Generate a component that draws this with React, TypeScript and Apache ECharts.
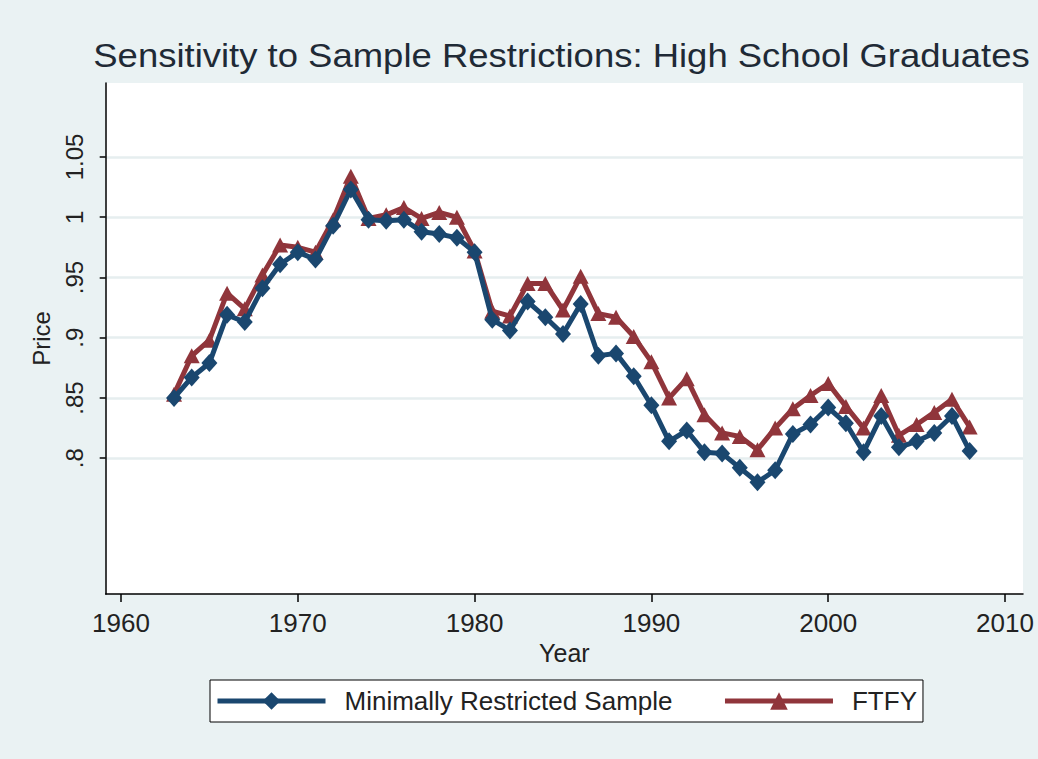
import React, { useEffect, useRef } from "react";
import * as echarts from "echarts";

const years = [
  1963, 1964, 1965, 1966, 1967, 1968, 1969, 1970, 1971, 1972, 1973, 1974, 1975, 1976, 1977, 1978,
  1979, 1980, 1981, 1982, 1983, 1984, 1985, 1986, 1987, 1988, 1989, 1990, 1991, 1992, 1993, 1994,
  1995, 1996, 1997, 1998, 1999, 2000, 2001, 2002, 2003, 2004, 2005, 2006, 2007, 2008,
];

const minimallyRestricted = [
  0.85, 0.867, 0.879, 0.919, 0.913, 0.941, 0.961, 0.971, 0.965, 0.993, 1.023, 0.998, 0.997, 0.998,
  0.988, 0.986, 0.983, 0.971, 0.915, 0.906, 0.93, 0.917, 0.903, 0.928, 0.885, 0.887, 0.868, 0.844,
  0.814, 0.823, 0.805, 0.804, 0.792, 0.78, 0.79, 0.82, 0.828, 0.842, 0.829, 0.805, 0.835, 0.809,
  0.814, 0.821, 0.835, 0.806,
];

const ftfy = [
  0.853, 0.885, 0.898, 0.937, 0.924, 0.952, 0.977, 0.975, 0.971, 0.998, 1.034, 0.999, 1.002, 1.008,
  0.999, 1.004, 1.0, 0.972, 0.922, 0.918, 0.945, 0.945, 0.923, 0.951, 0.92, 0.917, 0.901, 0.88,
  0.85, 0.866, 0.836, 0.821, 0.818, 0.807, 0.825, 0.841, 0.852, 0.862, 0.843, 0.825, 0.852, 0.819,
  0.828, 0.838, 0.849, 0.826,
];

const xTicks = [1960, 1970, 1980, 1990, 2000, 2010];
const yTicks = [0.8, 0.85, 0.9, 0.95, 1, 1.05];

const seriesNames = ["Minimally Restricted Sample", "FTFY"];
const titleText = "Sensitivity to Sample Restrictions: High School Graduates";

const FONT = "'Liberation Sans', Arial, sans-serif";
const BLUE = "#1a476f";
const RED = "#90353b";

export default function App() {
  const ref = useRef<HTMLDivElement>(null);

  useEffect(() => {
    if (!ref.current) return;
    const chart = echarts.init(ref.current, undefined, { renderer: "svg" });
    const blueData = years.map((y, i) => [y, minimallyRestricted[i]]);
    const redData = years.map((y, i) => [y, ftfy[i]]);

    chart.setOption({
      animation: false,
      backgroundColor: "#eaf2f3",
      textStyle: { fontFamily: FONT },
      graphic: [
        {
          type: "text",
          x: 561.5,
          y: 55,
          scaleX: 1.073,
          style: {
            text: titleText,
            fontFamily: FONT,
            fontSize: 34,
            fill: "#1f2a36",
            textAlign: "center",
            textVerticalAlign: "middle",
          },
        },
      ],
      grid: {
        left: 105.7,
        right: 15,
        top: 83,
        bottom: 165,
        show: true,
        backgroundColor: "#ffffff",
        borderWidth: 0,
      },
      legend: {
        data: seriesNames,
        left: 210,
        top: 680,
        orient: "horizontal",
        itemWidth: 108,
        itemHeight: 22,
        itemGap: 50,
        padding: [8, 6, 8, 5],
        borderColor: "#000",
        borderWidth: 1,
        backgroundColor: "#ffffff",
        lineStyle: { width: 5 },
        textStyle: {
          fontFamily: FONT,
          fontSize: 26,
          color: "#222",
          padding: [0, 0, 0, 14],
        },
      },
      xAxis: {
        type: "value",
        min: 1959.135,
        max: 2011.018,
        name: "Year",
        nameLocation: "middle",
        nameGap: 44,
        nameTextStyle: { fontFamily: FONT, fontSize: 25, color: "#222" },
        axisLine: { show: true, lineStyle: { color: "#000", width: 1.5 } },
        axisTick: { show: true, customValues: xTicks, length: 8, lineStyle: { color: "#000", width: 1.5 } },
        axisLabel: {
          customValues: xTicks,
          margin: 16,
          fontFamily: FONT,
          fontSize: 26,
          color: "#222",
          formatter: (v: number) => String(v),
        },
        splitLine: { show: false },
      },
      yAxis: {
        type: "value",
        min: 0.6873,
        max: 1.1114,
        name: "Price",
        nameLocation: "middle",
        nameRotate: 90,
        nameGap: 52,
        nameTextStyle: { fontFamily: FONT, fontSize: 24, color: "#222" },
        axisLine: { show: true, lineStyle: { color: "#000", width: 1.5 } },
        axisTick: { show: true, customValues: yTicks, length: 6, lineStyle: { color: "#000", width: 1.5 } },
        axisLabel: {
          customValues: yTicks,
          rotate: 90,
          margin: 19,
          fontFamily: FONT,
          fontSize: 24,
          color: "#222",
          formatter: (v: number) => (v >= 1 ? String(v) : String(v).replace(/^0/, "")),
        },
        splitLine: { show: true, lineStyle: { color: "#e6eeef", width: 2.5 } },
      },
      series: [
        {
          name: seriesNames[0],
          type: "line",
          data: blueData,
          color: BLUE,
          symbol: "diamond",
          symbolSize: [16, 18],
          lineStyle: { color: BLUE, width: 5 },
          itemStyle: { color: BLUE },
          z: 3,
        },
        {
          name: seriesNames[1],
          type: "line",
          data: redData,
          color: RED,
          symbol: "triangle",
          symbolSize: [16, 15],
          lineStyle: { color: RED, width: 5 },
          itemStyle: { color: RED },
          z: 2,
        },
      ],
    });
    return () => chart.dispose();
  }, []);

  return (
    <div
      ref={ref}
      style={{ position: "fixed", left: 0, top: 0, width: 1038, height: 759 }}
    />
  );
}
